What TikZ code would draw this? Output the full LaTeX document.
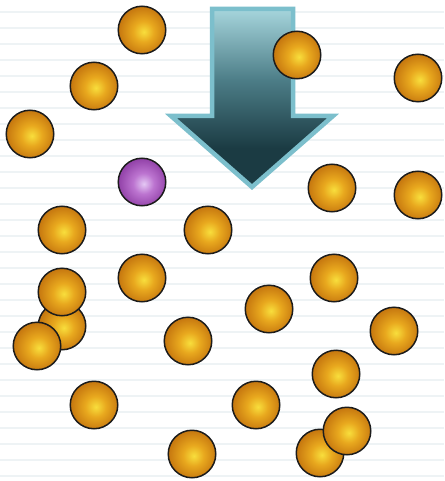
\documentclass[tikz,border=0pt]{standalone}
\definecolor{ballC}{HTML}{F8DE3C}
\definecolor{ballM}{HTML}{E8A81E}
\definecolor{ballE}{HTML}{C87A10}
\definecolor{purC}{HTML}{E4C8F4}
\definecolor{purM}{HTML}{BC74D0}
\definecolor{purE}{HTML}{9444AA}
\definecolor{ballline}{HTML}{1C1C1C}
\definecolor{arrLight}{HTML}{A6D5DC}
\definecolor{arrMid}{HTML}{4C7D87}
\definecolor{arrDark}{HTML}{1B3B43}
\definecolor{arrEdge}{HTML}{7CBFCC}
\definecolor{ruleline}{HTML}{EEF3F5}
\pgfdeclareradialshading{goldball}{\pgfpoint{2bp}{-2bp}}{color(0bp)=(ballC); color(11bp)=(ballM); color(25bp)=(ballE); color(50bp)=(ballE)}
\pgfdeclareradialshading{purpleball}{\pgfpoint{2bp}{-2bp}}{color(0bp)=(purC); color(11bp)=(purM); color(25bp)=(purE); color(50bp)=(purE)}
\pgfdeclareverticalshading{arrowshade}{100bp}{color(0bp)=(arrDark); color(36bp)=(arrDark); color(55bp)=(arrMid); color(75bp)=(arrLight); color(100bp)=(arrLight)}
\tikzset{
  ball/.style={circle, minimum size=47.5pt, inner sep=0pt, draw=ballline, line width=1.5pt, shading=goldball},
  pball/.style={ball, shading=purpleball},
  rule/.style={draw=ruleline, line width=2pt},
  bigarrow/.style={draw=arrEdge, line width=4.5pt, line join=miter, shading=arrowshade}
}
\begin{document}
\begin{tikzpicture}[x=1pt,y=-1pt]
\useasboundingbox (0,0) rectangle (444,481);
\fill[white] (0,0) rectangle (444,481);
\foreach \k in {0,...,29}{
  \coordinate (rl\k) at (0,{12+16*\k});
  \coordinate (rr\k) at (444,{12+16*\k});
  \draw[rule] (rl\k) -- (rr\k);
}
\coordinate (a1) at (212,9);
\coordinate (a2) at (293,9);
\coordinate (a3) at (293,116);
\coordinate (a4) at (333,116);
\coordinate (a5) at (252,187);
\coordinate (a6) at (171,116);
\coordinate (a7) at (212,116);
\path[bigarrow] (a1) -- (a2) -- (a3) -- (a4) -- (a5) -- (a6) -- (a7) -- cycle;
\node[ball] (b1) at (142,30) {};
\node[ball] (b2) at (94,86) {};
\node[ball] (b3) at (30,134) {};
\node[pball] (b4) at (142,182) {};
\node[ball] (b5) at (62,230) {};
\node[ball] (b6) at (208,230) {};
\node[ball] (b7) at (297,55) {};
\node[ball] (b8) at (418,78) {};
\node[ball] (b9) at (332,188) {};
\node[ball] (b10) at (418,195) {};
\node[ball] (b11) at (142,278) {};
\node[ball] (b12) at (62,326) {};
\node[ball] (b13) at (62,292) {};
\node[ball] (b14) at (37,346) {};
\node[ball] (b15) at (188,341) {};
\node[ball] (b16) at (94,405) {};
\node[ball] (b17) at (192,454) {};
\node[ball] (b18) at (334,278) {};
\node[ball] (b19) at (269,309) {};
\node[ball] (b20) at (394,331) {};
\node[ball] (b21) at (336,374) {};
\node[ball] (b22) at (256,405) {};
\node[ball] (b23) at (320,453) {};
\node[ball] (b24) at (347,431) {};
\end{tikzpicture}
\end{document}
